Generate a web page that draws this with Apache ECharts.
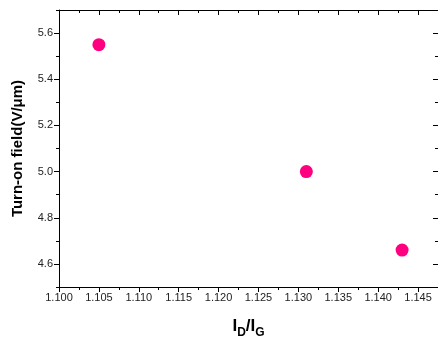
<!DOCTYPE html>
<html>
<head>
<meta charset="utf-8">
<script src="https://cdn.jsdelivr.net/npm/echarts@6/dist/echarts.min.js"></script>
<style>html,body{margin:0;padding:0;background:#fff;}#c{width:438px;height:347px;}</style>
</head>
<body>
<div id="c"></div>
<script>
const ratioValues = [1.105, 1.131, 1.143];
const fieldValues = [5.55, 5.0, 4.66];
const xMajorTicks = [1.100, 1.105, 1.110, 1.115, 1.120, 1.125, 1.130, 1.135, 1.140, 1.145];
const xMinorTicks = [1.1025, 1.1075, 1.1125, 1.1175, 1.1225, 1.1275, 1.1325, 1.1375, 1.1425, 1.1475];
const yMajorTicks = [4.6, 4.8, 5.0, 5.2, 5.4, 5.6];
const yMinorTicks = [4.5, 4.7, 4.9, 5.1, 5.3, 5.5, 5.7];

const FONT = '"Liberation Sans", Arial, sans-serif';
const X_MIN = 1.100, X_MAX = 1.1475, Y_MIN = 4.5, Y_MAX = 5.7;

function xAxisDef(position, ticks, len, inside, labels, line) {
  return {
    type: 'value', position: position, min: X_MIN, max: X_MAX,
    axisLine: { show: line, lineStyle: { color: '#000', width: 1 } },
    axisTick: { show: true, inside: inside, length: len, customValues: ticks, lineStyle: { color: '#000', width: 1 } },
    axisLabel: labels ? { show: true, customValues: ticks, formatter: v => v.toFixed(3), color: '#222', fontSize: 11, fontFamily: FONT, margin: 5 } : { show: false },
    splitLine: { show: false }
  };
}
function yAxisDef(position, ticks, len, inside, labels, line) {
  return {
    type: 'value', position: position, min: Y_MIN, max: Y_MAX,
    axisLine: { show: line, lineStyle: { color: '#000', width: 1 } },
    axisTick: { show: true, inside: inside, length: len, customValues: ticks, lineStyle: { color: '#000', width: 1 } },
    axisLabel: labels ? { show: true, customValues: ticks, formatter: v => v.toFixed(1), color: '#222', fontSize: 11, fontFamily: FONT, margin: 6 } : { show: false },
    splitLine: { show: false }
  };
}

const xMain = xAxisDef('bottom', xMajorTicks, 5, false, true, true);
xMain.name = '{b|I}{s|D}{b|/I}{s|G}';
xMain.nameLocation = 'middle';
xMain.nameGap = 31;
xMain.nameTextStyle = { rich: {
  b: { fontSize: 17, fontWeight: 'bold', fontFamily: FONT, color: '#000', verticalAlign: 'bottom' },
  s: { fontSize: 12, fontWeight: 'bold', fontFamily: FONT, color: '#000', verticalAlign: 'bottom', padding: [0, 0, -4, 0] }
} };

const yMain = yAxisDef('left', yMajorTicks, 5, false, true, true);
yMain.name = 'Turn-on field(V/μm)';
yMain.nameLocation = 'middle';
yMain.nameGap = 34;
yMain.nameTextStyle = { fontSize: 15, fontWeight: 'bold', fontFamily: FONT, color: '#000' };

const option = {
  animation: false,
  backgroundColor: '#fff',
  grid: { left: 59, right: 0, top: 10, bottom: 60 },
  xAxis: [
    xMain,
    xAxisDef('bottom', xMinorTicks, 3, false, false, false),
    xAxisDef('top', xMajorTicks, 5, true, false, true),
    xAxisDef('top', xMinorTicks, 3, true, false, false)
  ],
  yAxis: [
    yMain,
    yAxisDef('left', yMinorTicks, 3, false, false, false),
    yAxisDef('right', yMajorTicks, 5, true, false, true),
    yAxisDef('right', yMinorTicks, 3, true, false, false)
  ],
  series: [{
    type: 'scatter',
    xAxisIndex: 0, yAxisIndex: 0,
    data: ratioValues.map((x, i) => [x, fieldValues[i]]),
    symbol: 'circle', symbolSize: 13,
    itemStyle: { color: '#FF0080', opacity: 1 }
  }]
};
echarts.init(document.getElementById('c')).setOption(option);
</script>
</body>
</html>
